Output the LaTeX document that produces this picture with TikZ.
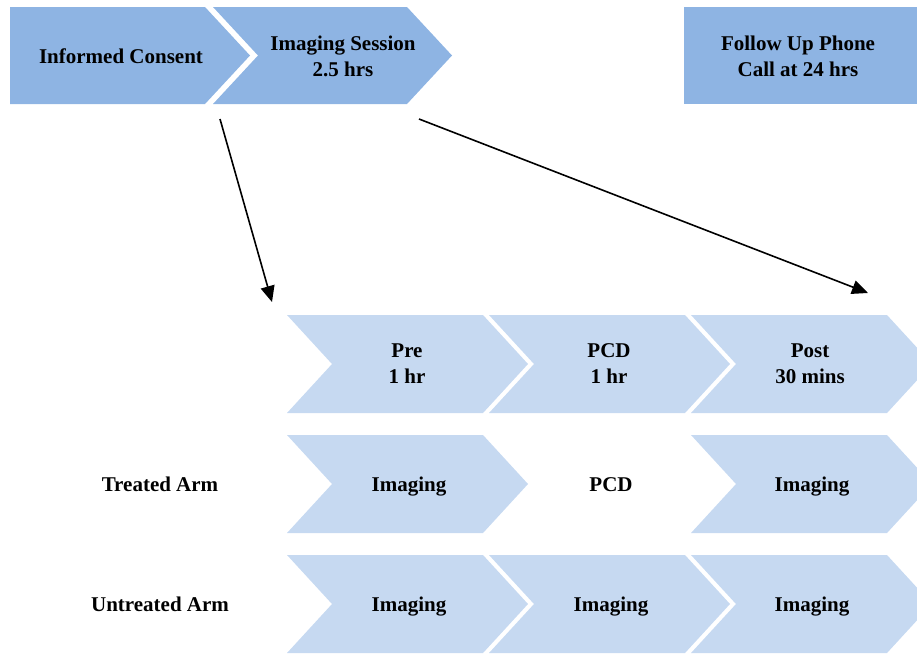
\documentclass[tikz,border=0pt]{standalone}
\usepackage{fontspec}
\setmainfont{Liberation Serif}
\usetikzlibrary{arrows.meta}
\definecolor{darkblu}{RGB}{142,180,227}
\definecolor{lightblu}{RGB}{198,217,241}
\newcommand{\mychev}[3]{\fill[#3] (#1,#2) -- ++(196,0) -- ++(45,49) -- ++(-45,49) -- ++(-196,0) -- ++(45,-49) -- cycle;}
\tikzset{
  lbl/.style={align=center, text=black, inner sep=0pt, font=\fontsize{21}{26}\selectfont\bfseries},
  one/.style={lbl, anchor=base},
  conn/.style={line width=1.6pt, -{Triangle[length=16pt,width=14pt]}}
}
\begin{document}
\begin{tikzpicture}[x=1pt,y=-1pt]
\useasboundingbox (0,0) rectangle (917,653);
\clip (0,0) rectangle (917,653);
% top row
\fill[darkblu] (10,7) -- (205,7) -- (250,55.5) -- (205,104) -- (10,104) -- cycle;
\fill[darkblu] (213,7) -- (407,7) -- (452,55.5) -- (407,104) -- (213,104) -- (258,55.5) -- cycle;
\fill[darkblu] (684,7) rectangle (917,104);
\node[one] (ic) at (121,63) {Informed Consent};
\node[lbl] (is) at (343,56) {Imaging Session\\2.5 hrs};
\node[lbl] (fu) at (798,56) {Follow Up Phone\\Call at 24 hrs};
% phase row
\mychev{287}{315}{lightblu}
\mychev{489}{315}{lightblu}
\mychev{691}{315}{lightblu}
\node[lbl] (pre) at (407,364) {Pre\\1 hr};
\node[lbl] (pcd) at (609,364) {PCD\\1 hr};
\node[lbl] (post) at (810,364) {Post\\30 mins};
% treated row
\mychev{287}{435}{lightblu}
\mychev{691}{435}{lightblu}
\node[one] (tarm) at (160,491) {Treated Arm};
\node[one] (t1) at (409,491) {Imaging};
\node[one] (t2) at (611,491) {PCD};
\node[one] (t3) at (812,491) {Imaging};
% untreated row
\mychev{287}{555}{lightblu}
\mychev{489}{555}{lightblu}
\mychev{691}{555}{lightblu}
\node[one] (uarm) at (160,611) {Untreated Arm};
\node[one] (u1) at (409,611) {Imaging};
\node[one] (u2) at (611,611) {Imaging};
\node[one] (u3) at (812,611) {Imaging};
% arrows
\coordinate (a1s) at (220,119);
\coordinate (a1e) at (272,302);
\coordinate (a2s) at (419,119);
\coordinate (a2e) at (868,293);
\draw[conn] (a1s) -- (a1e);
\draw[conn] (a2s) -- (a2e);
\end{tikzpicture}
\end{document}
